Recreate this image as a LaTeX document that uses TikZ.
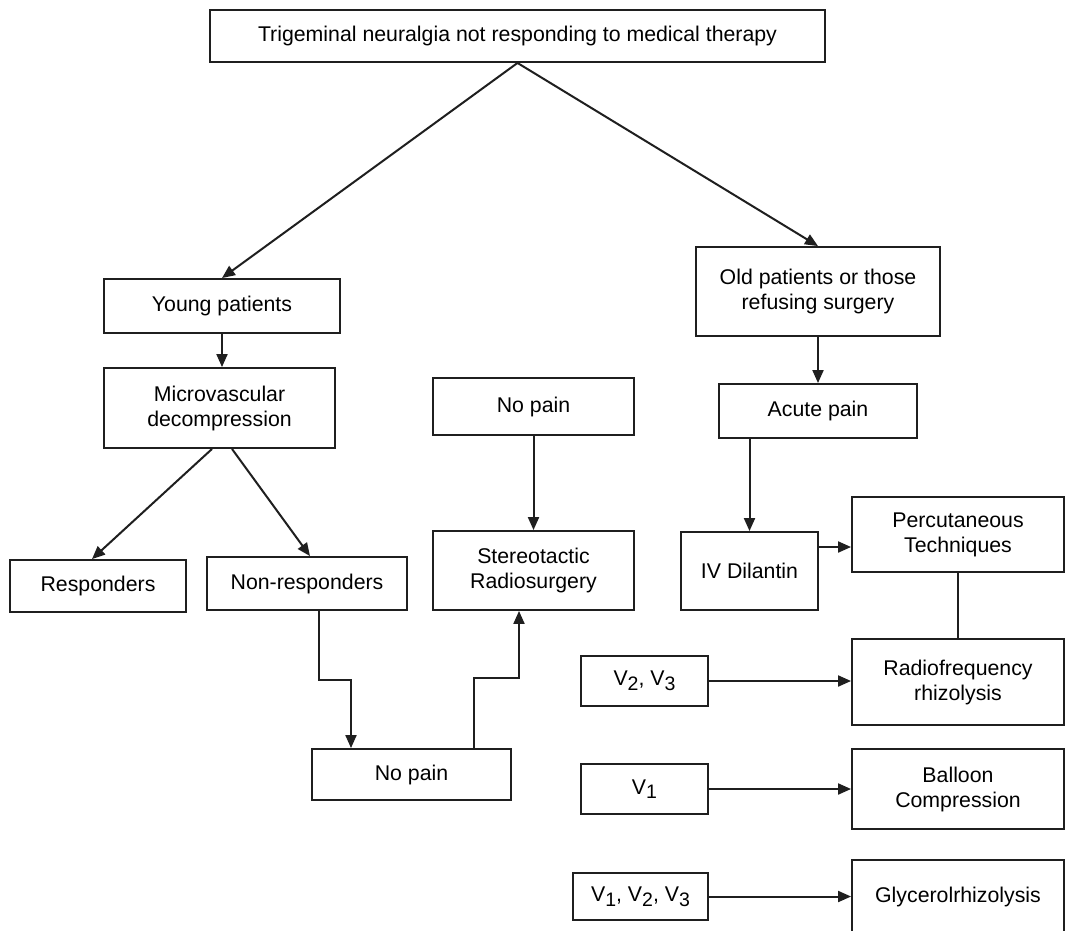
\documentclass[tikz,border=0pt]{standalone}
\usepackage{fontspec}
\setmainfont{Liberation Sans}
\usetikzlibrary{arrows.meta}
\newcommand\vsub[1]{V\raisebox{-0.4ex}{\fontsize{19.5}{19.5}\selectfont #1}}
\tikzset{
  box/.style={draw=black!88, line width=1.9pt, align=center, inner sep=0pt,
    font=\fontsize{21.3}{25}\selectfont},
  arr/.style={draw=black!88, line width=2pt, -{Triangle[length=13pt,width=11pt]}},
  link/.style={draw=black!88, line width=2pt},
}
\begin{document}
\begin{tikzpicture}[x=1pt,y=-1pt]
\clip (0,0) rectangle (1067,930);
\fill[white] (0,0) rectangle (1067,930);

% boxes, placed by centre and size
\node[box, minimum width=615pt, minimum height=52pt] (top) at (517.5,36) {Trigeminal neuralgia not responding to medical therapy};
\node[box, minimum width=236pt, minimum height=54pt] (young) at (222,306) {Young patients};
\node[box, minimum width=244pt, minimum height=89pt] (old) at (818,291.5) {Old patients or those\\refusing surgery};
\node[box, minimum width=231pt, minimum height=80pt] (micro) at (219.5,408) {Microvascular\\decompression};
\node[box, minimum width=176pt, minimum height=52pt] (resp) at (98,586) {Responders};
\node[box, minimum width=200pt, minimum height=53pt] (nonresp) at (307,583.5) {Non-responders};
\node[box, minimum width=201pt, minimum height=57pt] (nopainT) at (533.5,406.5) {No pain};
\node[box, minimum width=201pt, minimum height=79pt] (stereo) at (533.5,570.5) {Stereotactic\\Radiosurgery};
\node[box, minimum width=199pt, minimum height=51pt] (nopainB) at (411.5,774.5) {No pain};
\node[box, minimum width=198pt, minimum height=54pt] (acute) at (818,411) {Acute pain};
\node[box, minimum width=137pt, minimum height=78pt] (iv) at (749.5,571) {IV Dilantin};
\node[box, minimum width=212pt, minimum height=75pt] (perc) at (958,534.5) {Percutaneous\\Techniques};
\node[box, minimum width=212pt, minimum height=86pt] (radio) at (958,682) {Radiofrequency\\rhizolysis};
\node[box, minimum width=127pt, minimum height=50pt] (v23) at (644.5,681) {\vsub{2}, \vsub{3}};
\node[box, minimum width=127pt, minimum height=50pt] (v1) at (644.5,789) {\vsub{1}};
\node[box, minimum width=212pt, minimum height=80pt] (balloon) at (958,789) {Balloon\\Compression};
\node[box, minimum width=135pt, minimum height=47pt] (v123) at (640.5,896.5) {\vsub{1}, \vsub{2}, \vsub{3}};
\node[box, minimum width=212pt, minimum height=74pt] (glyc) at (958,897) {Glycerolrhizolysis};

% connectors
\draw[arr] (top.south) -- (young.north);
\draw[arr] (top.south) -- (old.north);
\draw[arr] (young.south) -- (young.south |- micro.north);
\draw[arr] ([xshift=-7.5pt]micro.south) -- ([xshift=-6pt]resp.north);
\draw[arr] ([xshift=12.5pt]micro.south) -- ([xshift=3pt]nonresp.north);
\draw[arr] ([xshift=12pt]nonresp.south) -- ++(0,69) -| ([xshift=-60.5pt]nopainB.north);
\draw[arr] ([xshift=62.5pt]nopainB.north) -- ++(0,-70) -| ([xshift=-14.5pt]stereo.south);
\draw[arr] (nopainT.south) -- (stereo.north);
\draw[arr] (old.south) -- (acute.north);
\draw[arr] (iv.north |- acute.south) -- (iv.north);
\coordinate (ivp) at ([yshift=24pt]iv.east);
\draw[arr] (ivp) -- (ivp -| perc.west);
\draw[link] (perc.south) -- (radio.north);
\draw[arr] (v23.east) -- (v23.east -| radio.west);
\draw[arr] (v1.east) -- (v1.east -| balloon.west);
\draw[arr] (v123.east) -- (v123.east -| glyc.west);
\end{tikzpicture}
\end{document}
